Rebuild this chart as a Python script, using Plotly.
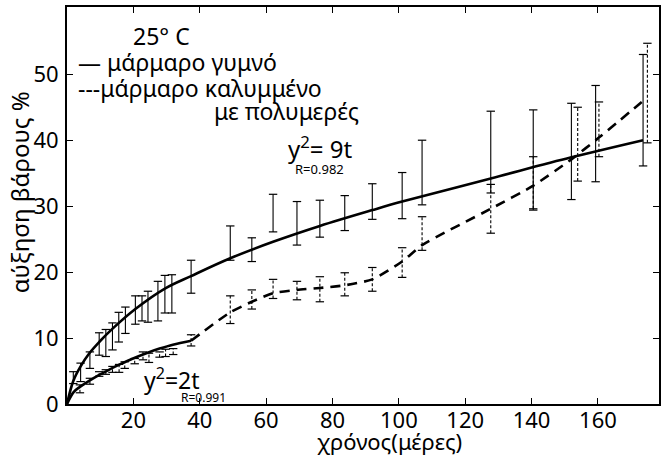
import plotly.graph_objects as go

# ---- data ----
# fitted curve, bare marble (y^2 = 9t)
bare_fit_t = [0, 1.9, 4.1, 6.9, 9.7, 13.9, 20.6, 29.5, 37.4, 49.2, 62.1, 76.2, 92.0,
              101.0, 127.7, 152.0, 173.6]
bare_fit_y = [0, 3.5, 5.7, 7.8, 9.4, 11.5, 14.4, 17.5, 19.4, 22.1, 24.6, 27.0, 29.4,
              30.7, 34.2, 37.4, 40.0]

# error bars, bare marble
bare_t = [1.9, 4.1, 6.9, 9.7, 11.7, 13.7, 15.6, 17.6, 20.6, 22.6, 24.4, 27.4, 29.5, 31.6,
          37.4, 49.2, 55.7, 62.1, 69.3, 76.2, 83.7, 92.0, 101.0, 107.0, 127.7, 140.5,
          152.0, 159.3, 173.6]
bare_low = [3.1, 3.4, 5.4, 7.4, 7.2, 8.2, 9.4, 10.7, 12.1, 12.6, 12.4, 12.6, 13.8, 13.8,
            16.8, 21.8, 21.6, 26.1, 24.1, 25.3, 26.3, 28.0, 28.1, 30.2, 32.0, 29.4,
            31.0, 33.7, 36.1]
bare_high = [4.9, 6.2, 7.9, 10.8, 11.3, 12.3, 13.9, 14.7, 16.4, 16.4, 17.1, 18.6, 19.5, 19.6,
             21.8, 27.0, 25.2, 31.8, 30.7, 30.9, 31.6, 33.4, 35.1, 40.0, 44.4, 44.6,
             45.6, 48.3, 53.0]

# fitted curve, coated marble, early part (y^2 = 2t)
coat_fit_t = [0, 2, 3.9, 7.9, 11.9, 15.9, 19.9, 23.9, 27.9, 31.9, 37.4]
coat_fit_y = [0, 1.8, 2.6, 3.9, 5.0, 6.0, 6.9, 7.7, 8.4, 9.0, 9.6]

# dashed curve, coated marble, later part
coat_line_t = [37.4, 49.2, 55.7, 62.1, 69.3, 76.2, 83.7, 92.0, 101.0, 107.0, 127.7,
               140.5, 152.0, 160.3, 174.9]
coat_line_y = [9.6, 13.9, 15.5, 16.8, 17.3, 17.6, 18.0, 18.9, 21.6, 24.1, 29.6,
               33.1, 37.1, 40.4, 46.5]

# error bars, coated marble
coat_t = [3.9, 6.9, 9.7, 11.7, 13.7, 15.7, 17.4, 20.4, 22.9, 24.7, 27.9, 29.7, 32.0,
          37.4, 49.2, 55.7, 62.1, 69.3, 76.2, 83.7, 92.0, 101.0, 107.0, 127.7, 140.5,
          153.9, 160.3, 174.9]
coat_low = [1.7, 3.0, 4.2, 4.5, 4.8, 4.8, 5.4, 6.1, 6.7, 6.3, 7.1, 7.2, 7.5,
            8.8, 12.2, 14.4, 16.0, 15.8, 15.5, 16.4, 17.1, 19.2, 23.3, 25.9, 29.6,
            33.8, 37.5, 39.6]
coat_high = [2.9, 3.9, 4.9, 5.2, 5.7, 6.0, 6.4, 6.9, 7.9, 7.7, 7.9, 8.3, 8.4,
             10.5, 16.4, 17.3, 18.9, 18.6, 19.3, 19.9, 20.7, 23.7, 28.4, 33.3, 37.5,
             45.0, 45.8, 54.7]

x_ticks = [20, 40, 60, 80, 100, 120, 140, 160]
y_ticks = [0, 10, 20, 30, 40, 50]

# ---- layout geometry (pixels) ----
W, H = 663, 455
ML, MR, MT, MB = 67, 2, 7, 51
PW, PH = W - ML - MR, H - MT - MB


def px(xp):
    return (xp - ML) / PW


def py(yp):
    return (H - MB - yp) / PH


FONT = "Noto Sans"
fig = go.Figure()


def bars(ts, lo, hi, dash, width):
    xs, ys = [], []
    for t, a, b in zip(ts, lo, hi):
        xs += [t, t, None]
        ys += [a, b, None]
    fig.add_trace(go.Scatter(x=xs, y=ys, mode="lines",
                             line=dict(color="black", width=width, dash=dash),
                             hoverinfo="skip", showlegend=False))
    fig.add_trace(go.Scatter(x=list(ts) + list(ts), y=list(lo) + list(hi), mode="markers",
                             marker=dict(symbol="line-ew", size=6,
                                         line=dict(color="black", width=1.2)),
                             hoverinfo="skip", showlegend=False))


bars(bare_t, bare_low, bare_high, "solid", 1.1)
bars(coat_t, coat_low, coat_high, "3px,2px", 1.1)

fig.add_trace(go.Scatter(x=bare_fit_t, y=bare_fit_y, mode="lines",
                         line=dict(color="black", width=2.6, shape="spline", smoothing=1.0),
                         showlegend=False))
fig.add_trace(go.Scatter(x=coat_fit_t, y=coat_fit_y, mode="lines",
                         line=dict(color="black", width=2.6, shape="spline", smoothing=1.0),
                         showlegend=False))
fig.add_trace(go.Scatter(x=coat_line_t, y=coat_line_y, mode="lines",
                         line=dict(color="black", width=2.6, dash="10px,7px",
                                   shape="spline", smoothing=0.6),
                         showlegend=False))

ann = []


def text(s, xp, yp, size, xanchor="center", angle=0):
    ann.append(dict(text=s, x=px(xp), y=py(yp), xref="paper", yref="paper",
                    xanchor=xanchor, yanchor="middle", showarrow=False, textangle=angle,
                    font=dict(family=FONT, size=size, color="black")))


text("25° C", 162, 36, 23)
text("— μάρμαρο γυμνό", 76, 62, 23, xanchor="left")
text("---μάρμαρο καλυμμένο", 76, 88, 23, xanchor="left")
text("με πολυμερές", 362, 111, 23, xanchor="right")
text("y<sup>2</sup>= 9t", 321, 147, 24)
text("R=0.982", 320, 169, 13)
text("y<sup>2</sup>=2t", 172, 379, 23)
text("R=0.991", 204, 397, 12)
text("χρόνος(μέρες)", 391, 441, 22)
text("αύξηση βάρους %", 19, 192, 24, angle=-90)

axis_common = dict(showline=True, linewidth=2, linecolor="black", mirror="ticks",
                   ticks="inside", ticklen=6, tickwidth=1.2, tickcolor="black",
                   showgrid=False, zeroline=False,
                   tickfont=dict(family=FONT, size=22, color="black"))

fig.update_layout(
    width=W, height=H,
    margin=dict(l=ML, r=MR, t=MT, b=MB),
    paper_bgcolor="white", plot_bgcolor="white",
    xaxis=dict(range=[0, 178.4], tickvals=x_ticks, ticktext=[str(v) for v in x_ticks],
               ticklabelstandoff=-4, **axis_common),
    yaxis=dict(range=[0, 60.2], tickvals=y_ticks, ticktext=[str(v) for v in y_ticks],
               ticklabelstandoff=2, **axis_common),
    annotations=ann,
    showlegend=False,
)

fig.write_html("out.html", config={"displayModeBar": False},
               post_script="document.body.style.margin='0px';document.body.style.overflow='hidden';")
